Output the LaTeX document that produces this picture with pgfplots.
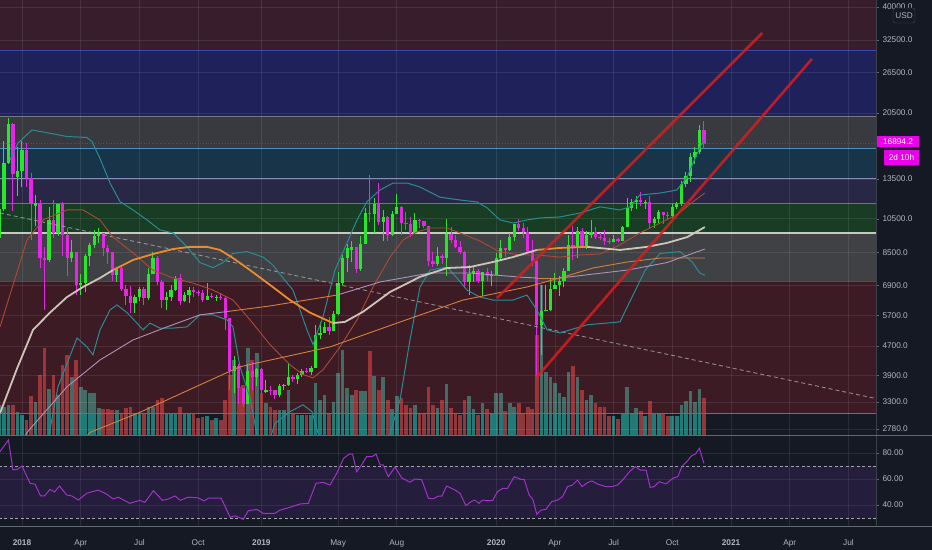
\documentclass[border=0pt]{standalone}
\usepackage{pgfplots}
\pgfplotsset{compat=1.18}
\usepackage{pgfplotstable}
\usepackage{fontspec}
\setmainfont{Liberation Sans}

\definecolor{bg}{RGB}{21,25,36}
\definecolor{lbl}{RGB}{178,181,190}
\definecolor{cup}{RGB}{40,230,40}
\definecolor{cdn}{RGB}{232,36,232}
\definecolor{vup}{RGB}{38,166,154}
\definecolor{vdn}{RGB}{239,83,80}
\definecolor{zA}{RGB}{200,50,80}
\definecolor{zB}{RGB}{60,60,255}
\definecolor{zC}{RGB}{200,190,180}
\definecolor{zD}{RGB}{40,160,220}
\definecolor{zE}{RGB}{130,110,230}
\definecolor{zF}{RGB}{40,200,40}
\definecolor{zG}{RGB}{220,210,190}
\definecolor{zH}{RGB}{230,40,40}
\definecolor{lA}{RGB}{56,72,184}
\definecolor{lB}{RGB}{120,120,128}
\definecolor{lC}{RGB}{74,144,192}
\definecolor{lD}{RGB}{138,138,184}
\definecolor{lE}{RGB}{58,154,64}
\definecolor{lF}{RGB}{200,200,190}
\definecolor{lG}{RGB}{160,40,56}
\definecolor{lH}{RGB}{110,110,115}
\definecolor{bb}{RGB}{40,140,150}
\definecolor{maA}{RGB}{175,72,52}
\definecolor{maL}{RGB}{205,198,184}
\definecolor{maO}{RGB}{232,140,45}
\definecolor{lav}{RGB}{176,144,184}
\definecolor{ora}{RGB}{215,128,60}
\definecolor{chan}{RGB}{215,30,30}
\definecolor{mag}{RGB}{235,0,235}
\definecolor{rsiband}{RGB}{150,60,230}
\definecolor{rsiln}{RGB}{160,50,200}
\definecolor{sepc}{RGB}{100,104,115}
\definecolor{trendc}{RGB}{175,175,180}
\definecolor{dashc}{RGB}{165,165,175}
\definecolor{sepv}{RGB}{60,64,75}
\definecolor{usdb}{RGB}{70,74,85}

\newcommand\lblfont{\fontsize{8.3}{10}\selectfont}

% x = weekly bar (0 = week of 1 Jan 2018), prices in thousands USD, v = volume (relative)
\pgfplotstableread{
x o h l c v
-5 9.30 11.80 9.00 11.20 30
-4 11.20 17.20 11.00 14.95 28
-3 14.95 19.80 14.80 19.10 30
-2 19.10 19.20 11.00 13.90 30
-1 13.70 16.50 12.10 14.20 23
0 14.20 17.20 12.80 16.20 20
1 16.20 17.00 12.80 13.60 15
2 13.60 14.00 9.20 11.50 39
3 11.40 12.20 10.00 11.60 33
4 11.60 11.80 7.70 8.20 60
5 8.20 8.80 5.90 8.10 87
6 8.10 11.30 8.00 10.40 46
7 10.40 11.80 9.30 9.60 60
8 9.60 11.50 9.40 11.50 40
9 11.50 11.70 8.30 9.50 70
10 9.50 9.90 7.30 8.20 80
11 8.20 9.20 8.00 8.50 58
12 8.50 8.50 6.50 6.90 75
13 6.90 7.40 6.50 7.00 48
14 7.00 8.40 6.60 8.30 45
15 8.30 9.00 7.80 8.90 42
16 8.90 9.80 8.70 9.40 42
17 9.40 9.90 9.00 9.60 27
18 9.60 9.60 8.30 8.70 26
19 8.70 8.90 7.90 8.50 26
20 8.50 8.50 7.10 7.35 25
21 7.35 7.75 7.05 7.70 25
22 7.70 7.75 6.65 6.75 22
23 6.75 6.90 6.10 6.45 27
24 6.45 6.85 5.78 6.15 28
25 6.15 6.50 5.80 6.40 22
26 6.40 6.80 6.25 6.75 22
27 6.75 6.80 6.08 6.35 22
28 6.35 7.70 6.30 7.40 28
29 7.40 8.50 7.40 8.20 28
30 8.20 8.30 6.90 7.03 35
31 7.03 7.15 5.97 6.30 37
32 6.30 6.60 5.88 6.40 22
33 6.40 6.90 6.25 6.70 22
34 6.70 7.30 6.65 7.20 22
35 7.20 7.40 6.10 6.25 28
36 6.25 6.60 6.20 6.50 22
37 6.50 6.80 6.15 6.70 22
38 6.70 6.80 6.40 6.60 22
39 6.60 6.70 6.45 6.56 17
40 6.56 6.70 6.20 6.30 18
41 6.30 7.00 6.30 6.45 19
42 6.45 6.55 6.35 6.40 15
43 6.40 6.50 6.25 6.42 17
44 6.42 6.55 6.30 6.35 15
45 6.35 6.40 5.20 5.60 35
46 5.60 5.60 3.55 4.00 60
47 4.00 4.40 3.50 4.15 75
48 4.15 4.20 3.25 3.60 48
49 3.60 3.60 3.20 3.25 50
50 3.25 4.20 3.25 4.00 87
51 4.00 4.25 3.55 3.85 75
52 3.85 4.10 3.65 4.05 82
53 4.05 4.10 3.50 3.55 42
54 3.52 3.80 3.50 3.56 32
55 3.56 3.65 3.45 3.55 28
56 3.55 3.56 3.35 3.45 25
57 3.45 3.70 3.40 3.65 25
58 3.65 3.70 3.55 3.67 25
59 3.67 4.20 3.65 3.85 45
60 3.85 3.90 3.75 3.81 22
61 3.81 3.95 3.70 3.92 20
62 3.92 4.05 3.85 4.00 20
63 4.00 4.10 3.95 3.98 20
64 3.98 4.15 3.90 4.10 20
65 4.10 5.35 4.10 5.05 52
66 5.05 5.45 4.90 5.10 35
67 5.10 5.45 5.10 5.30 40
68 5.30 5.65 5.05 5.15 22
69 5.15 5.85 5.15 5.75 33
70 5.75 7.50 5.70 7.00 62
71 7.00 8.35 6.90 8.20 85
72 8.20 8.95 7.50 8.75 47
73 8.60 9.10 8.00 8.80 40
74 8.80 8.80 7.45 7.65 45
75 7.65 9.40 7.55 8.95 44
76 8.95 11.25 8.95 10.90 44
77 10.90 13.88 10.30 10.80 84
78 10.80 12.00 9.60 11.50 59
79 11.50 13.20 10.10 10.30 45
80 10.30 11.10 9.10 10.60 58
81 10.60 10.65 9.10 9.50 35
82 9.50 11.00 9.40 10.80 26
83 10.80 12.30 10.80 11.30 39
84 11.30 11.40 9.50 10.20 37
85 10.20 10.95 9.80 10.15 30
86 10.15 10.60 9.35 9.60 27
87 9.60 10.90 9.60 10.40 30
88 10.40 10.45 9.90 10.35 22
89 10.35 10.35 9.90 10.00 22
90 10.00 10.05 7.80 8.05 48
91 8.05 8.50 7.75 7.90 30
92 7.90 8.80 7.80 8.30 27
93 8.30 8.40 7.90 8.20 35
94 8.20 10.50 7.30 9.55 51
95 9.55 9.95 9.00 9.20 27
96 9.20 9.50 8.70 8.80 22
97 8.80 9.10 8.40 8.50 20
98 8.50 8.55 6.80 7.05 35
99 7.05 7.85 6.50 7.40 39
100 7.40 7.80 7.05 7.55 26
101 7.55 7.65 7.00 7.10 20
102 7.10 7.50 6.45 7.50 32
103 7.50 7.70 7.10 7.30 26
104 7.30 7.55 6.85 7.35 22
105 7.35 8.45 7.35 8.20 42
106 8.20 9.20 8.10 8.70 42
107 8.70 8.75 8.25 8.60 24
108 8.60 9.60 8.55 9.35 32
109 9.35 10.15 9.15 10.15 28
110 10.15 10.50 9.70 9.90 32
111 9.90 10.25 9.30 9.65 22
112 9.65 9.95 8.45 8.55 28
113 8.55 9.20 7.80 8.05 26
114 8.05 8.15 3.85 5.35 100
115 5.35 6.90 4.45 5.85 150
116 5.85 6.90 5.85 5.90 63
117 5.90 7.20 5.85 6.75 58
118 6.75 7.45 6.75 6.90 52
119 6.90 7.30 6.45 7.10 42
120 7.10 7.70 6.80 7.55 38
121 7.55 9.45 7.55 8.90 63
122 8.90 10.05 8.10 8.75 69
123 8.75 9.95 8.20 9.70 58
124 9.70 9.90 8.70 8.70 45
125 8.70 9.70 8.65 9.45 35
126 9.45 10.40 9.30 9.65 40
127 9.65 9.95 9.25 9.35 32
128 9.35 9.60 9.20 9.30 28
129 9.30 9.80 8.90 9.10 28
130 9.10 9.30 8.95 9.05 19
131 9.05 9.45 9.05 9.25 19
132 9.25 9.30 9.05 9.15 16
133 9.15 10.00 9.15 9.95 22
134 9.95 12.00 9.95 11.25 48
135 11.25 11.90 11.00 11.70 22
136 11.70 12.10 11.15 11.85 27
137 11.85 12.45 11.40 11.65 24
138 11.65 11.80 11.15 11.70 19
139 11.70 12.10 9.85 10.25 34
140 10.25 10.60 9.90 10.45 22
141 10.45 11.10 10.20 10.95 21
142 10.95 10.98 10.15 10.75 21
143 10.75 10.95 10.40 10.65 19
144 10.65 11.50 10.55 11.30 19
145 11.30 11.70 11.20 11.50 19
146 11.50 13.35 11.40 13.05 30
147 13.05 14.10 12.80 13.80 34
148 13.80 15.95 13.25 15.50 44
149 15.50 16.50 14.85 16.00 33
150 16.00 18.95 15.80 18.40 46
151 18.40 19.45 16.30 16.894 37
}\ohlc

\begin{document}
\begin{tikzpicture}
\fill[bg] (0bp,0bp) rectangle (932bp,550bp);

% ---------- volume ----------
\begin{axis}[at={(0bp,115bp)}, anchor=south west, scale only axis,
  width=876bp, height=435bp, xmin=-4.87, xmax=189.1, ymin=0, ymax=435, hide axis,
  xtick=\empty, ytick=\empty]
\pgfplotsinvokeforeach{0,...,156}{
  \pgfplotstablegetelem{#1}{x}\of\ohlc\let\Cx\pgfplotsretval
  \pgfplotstablegetelem{#1}{o}\of\ohlc\let\Co\pgfplotsretval
  \pgfplotstablegetelem{#1}{c}\of\ohlc\let\Cc\pgfplotsretval
  \pgfplotstablegetelem{#1}{v}\of\ohlc\let\Cv\pgfplotsretval
  \ifdim\Cc pt<\Co pt\def\Vcol{vdn,opacity=0.55}\else\def\Vcol{vup,opacity=0.7}\fi
  \edef\tmp{\noexpand\addplot[\Vcol,line width=3.7bp,forget plot] coordinates {(\Cx,0) (\Cx,\Cv)};}
  \tmp
}
\end{axis}

% ---------- zones ----------
\begin{axis}[at={(0bp,115bp)}, anchor=south west, scale only axis,
  width=876bp, height=435bp, xmin=-4.87, xmax=189.1, ymode=log, ymin=2.676, ymax=41.85, hide axis,
  xtick=\empty, ytick=\empty]
\addplot[draw=none, fill=zA, fill opacity=0.2] coordinates {(-10,30.4) (200,30.4) (200,45) (-10,45)};
\addplot[draw=none, fill=zB, fill opacity=0.25] coordinates {(-10,20.1) (200,20.1) (200,30.4) (-10,30.4)};
\addplot[draw=none, fill=zC, fill opacity=0.2] coordinates {(-10,16.4) (200,16.4) (200,20.1) (-10,20.1)};
\addplot[draw=none, fill=zD, fill opacity=0.2] coordinates {(-10,13.5) (200,13.5) (200,16.4) (-10,16.4)};
\addplot[draw=none, fill=zE, fill opacity=0.18] coordinates {(-10,11.55) (200,11.55) (200,13.5) (-10,13.5)};
\addplot[draw=none, fill=zF, fill opacity=0.2] coordinates {(-10,9.6) (200,9.6) (200,11.55) (-10,11.55)};
\addplot[draw=none, fill=zG, fill opacity=0.22] coordinates {(-10,7.08) (200,7.08) (200,9.6) (-10,9.6)};
\addplot[draw=none, fill=zH, fill opacity=0.19] coordinates {(-10,3.07) (200,3.07) (200,7.08) (-10,7.08)};
\addplot[lA, line width=1bp] coordinates {(-10,30.4) (200,30.4)};
\addplot[lB, line width=1bp] coordinates {(-10,20.1) (200,20.1)};
\addplot[lC, line width=1bp] coordinates {(-10,16.4) (200,16.4)};
\addplot[lD, line width=1bp] coordinates {(-10,13.5) (200,13.5)};
\addplot[lE, line width=1bp] coordinates {(-10,11.55) (200,11.55)};
\addplot[lF, line width=1.6bp] coordinates {(-10,9.6) (200,9.6)};
\addplot[lG, line width=1bp] coordinates {(-10,7.08) (200,7.08)};
\addplot[lH, line width=0.8bp] coordinates {(-10,3.07) (200,3.07)};
\end{axis}

% ---------- price ----------
\begin{axis}[at={(0bp,115bp)}, anchor=south west, scale only axis,
  width=876bp, height=435bp, xmin=-4.87, xmax=189.1, ymode=log, ymin=2.676, ymax=41.85,
  axis line style={draw=none},
  xtick={0,13,26,39,53,70,83,105,118,131,144,157,170,183}, xticklabels={},
  xtick style={draw=none},
  ytick={2.78,3.3,3.9,4.7,5.7,6.9,8.5,10.5,13.5,20.5,26.5,32.5,40},
  yticklabels={2780.0,3300.0,3900.0,4700.0,5700.0,6900.0,8500.0,10500.0,13500.0,20500.0,26500.0,32500.0,40000.0},
  yticklabel pos=right, ytick pos=right, tick align=outside,
  major tick length=3bp, minor tick length=0bp,
  ytick style={draw=sepc},
  yticklabel style={font=\lblfont, text=lbl},
  grid=major, major grid style={white, opacity=0.085, line width=0.7bp}]
% candles
\pgfplotsinvokeforeach{0,...,156}{
  \pgfplotstablegetelem{#1}{x}\of\ohlc\let\Cx\pgfplotsretval
  \pgfplotstablegetelem{#1}{o}\of\ohlc\let\Co\pgfplotsretval
  \pgfplotstablegetelem{#1}{h}\of\ohlc\let\Ch\pgfplotsretval
  \pgfplotstablegetelem{#1}{l}\of\ohlc\let\Cl\pgfplotsretval
  \pgfplotstablegetelem{#1}{c}\of\ohlc\let\Cc\pgfplotsretval
  \ifdim\Cc pt<\Co pt\def\Ccol{cdn}\else\def\Ccol{cup}\fi
  \edef\tmp{\noexpand\addplot[\Ccol,line width=1bp,forget plot] coordinates {(\Cx,\Cl) (\Cx,\Ch)};
    \noexpand\addplot[\Ccol,line width=3.3bp,forget plot] coordinates {(\Cx,\Co) (\Cx,\Cc)};}
  \tmp
}
% dashed long-term trend line
\addplot[trendc, dash pattern=on 4bp off 3bp, line width=0.9bp, opacity=0.75]
  coordinates {(-4.87,10.89) (189.1,3.37)};
% current price dotted line
\addplot[mag, dotted, line width=0.7bp, opacity=0.7] coordinates {(-10,16.894) (200,16.894)};
% Bollinger upper
\addplot[bb, line width=1bp] coordinates {
(-2.66,15.22) (-0.89,16.95) (2.21,18.40) (4.65,18.17) (9.96,17.66) (14.39,17.55) (15.5,17.1)
(17.27,15.37) (19.49,13.16) (21.7,11.70) (24.58,11.10) (27.68,10.42) (30.56,9.78) (33.44,9.60)
(36.54,8.79) (39.42,7.96) (42.29,7.71) (44.51,7.96) (46.72,8.43) (49.82,8.53) (53.37,8.24)
(55.58,7.83) (57.79,7.22) (60.0,6.69) (61.56,5.90) (63.1,5.20) (64.44,4.74) (65.32,5.10)
(66.65,5.64) (69.3,7.59) (71.97,9.01) (74.18,10.42) (76.4,11.70) (79.27,12.59) (82.15,13.16)
(85.25,13.16) (88.13,12.83) (92.56,12.03) (96.99,11.82) (100.75,11.67) (102.97,11.25)
(105.85,10.42) (108.72,10.22) (111.82,10.42) (114.7,10.55) (119.13,10.62) (123.56,10.89)
(128.0,11.32) (132.4,11.10) (134.6,11.32) (136.8,12.20) (141.3,12.35) (145.0,12.59)
(147.3,13.67) (148.6,14.95) (150.1,16.47) (151.2,17.42)};
% Bollinger lower
\addplot[bb, line width=1bp] coordinates {
(4.5,2.3) (5.76,2.59) (7.97,3.63) (12.18,4.94) (14.39,4.67) (15.72,4.44) (17.27,5.20) (19.49,5.90)
(21.04,6.09) (23.25,5.80) (25.46,5.43) (26.79,5.20) (28.34,5.43) (30.56,5.26) (33.44,5.26)
(36.54,5.30) (39.42,5.72) (42.29,5.72) (45.39,5.54) (46.72,5.30) (48.27,4.12) (50.49,3.38)
(52.26,2.59) (54,2.4) (56.02,2.88) (59.34,3.10) (62.22,3.24) (64.22,3.10) (65.99,2.59)
(68,2.2) (75,1.8) (81.05,2.59) (83.7,3.34) (85.9,4.88) (88.13,6.82) (90.35,7.59) (94.11,7.74)
(96.32,7.22) (98.54,6.69) (101.4,6.40) (104.3,6.28) (108.7,6.28) (111.8,6.48) (114.0,5.90)
(116.3,5.20) (119.1,5.10) (125.1,5.37) (129.5,5.43) (132.4,5.47) (135.3,6.48) (138.0,7.59)
(141.3,8.43) (145.7,8.53) (148.4,7.99) (150.1,7.45) (151.2,7.35)};
% 20-week average
\addplot[maA, line width=0.9bp] coordinates {
(-4.87,5.30) (1.11,9.18) (4.65,10.42) (9.96,11.10) (13.5,11.10) (17.27,10.42) (20.15,9.35)
(24.58,8.46) (29.0,7.59) (33.44,7.22) (37.87,6.99) (42.29,6.69) (46.72,6.28) (50.49,5.54)
(54.92,4.74) (59.34,4.17) (62.22,3.92) (64.44,3.84) (66.65,4.04) (70.42,4.67) (74.18,5.54)
(77.72,6.82) (81.49,8.24) (84.37,9.18) (87.47,9.66) (90.35,9.90) (94.11,9.90) (96.99,9.60)
(101.4,9.12) (105.85,8.51) (110.3,8.35) (114.0,8.35) (119.1,8.24) (123.6,8.35) (128.0,8.40)
(132.4,8.90) (136.8,9.60) (141.3,10.22) (145.0,10.76) (148.6,11.70) (151.2,12.35)};
% slow thin averages
\addplot[ora, line width=0.9bp] coordinates {
(13,2.55) (15.06,2.72) (26.13,3.09) (37.2,3.57) (48.27,4.12) (68.2,4.67) (83.04,5.43)
(97.65,6.28) (111.8,6.82) (119.1,7.22) (126.4,7.69) (134.0,7.99) (141.3,8.19) (151.2,8.19)};
\addplot[lav, line width=0.9bp] coordinates {
(0,2.55) (1.11,2.72) (9.96,3.63) (17.27,4.30) (24.58,4.88) (32.1,5.30) (39.42,5.72) (44.95,5.83)};
\addplot[ora, line width=0.9bp] coordinates {(44.95,5.83) (54.92,6.05) (61.56,6.24) (69.75,6.48)};
\addplot[lav, line width=0.9bp] coordinates {
(69.75,6.48) (79.27,7.04) (90.35,7.45) (99.2,7.45) (110.3,7.26) (114.0,7.22)};
\addplot[ora, line width=0.9bp] coordinates {(114.0,7.22) (119.1,7.22)};
\addplot[lav, line width=0.9bp] coordinates {(119.1,7.22) (134.0,7.59) (142.8,7.96) (151.2,8.67)};
% 50-week average (light above price / orange below)
\addplot[maL, line width=1.8bp] coordinates {
(-4.87,3.07) (-1.11,4.07) (2.44,5.20) (6.2,5.80) (9.96,6.40) (13.5,6.82) (17.27,7.22) (20.15,7.59)};
\addplot[maO, line width=1.8bp] coordinates {
(20.15,7.59) (24.58,8.09) (29.0,8.40) (33.44,8.67) (37.2,8.79) (40.97,8.79) (43.84,8.62)
(46.72,8.19) (50.49,7.59) (54.92,6.91) (59.34,6.28) (63.77,5.80) (68.87,5.43)};
\addplot[maL, line width=1.8bp] coordinates {
(68.87,5.43) (71.5,5.47) (75.5,5.83) (81.5,6.61) (88.1,7.27) (94.1,7.69) (99.2,7.74)
(104.3,7.99) (108.7,8.24) (114.0,8.62)};
\addplot[maO, line width=1.8bp] coordinates {(114.0,8.62) (119.1,8.73) (125.1,8.79)};
\addplot[maL, line width=1.8bp] coordinates {
(125.1,8.79) (132.4,8.62) (138.4,8.79) (142.8,9.01) (147.3,9.35) (151.2,9.96)};
% rising channel
\addplot[chan, line width=2.6bp, opacity=0.85] coordinates {(105.2,6.36) (163.9,33.95)};
\addplot[chan, line width=2.6bp, opacity=0.85] coordinates {(114.0,3.86) (174.9,28.82)};
\end{axis}

% ---------- RSI ----------
\begin{axis}[at={(0bp,24bp)}, anchor=south west, scale only axis,
  width=876bp, height=90bp, xmin=-4.87, xmax=189.1, ymin=23.85, ymax=93.08,
  axis line style={draw=none},
  xtick={0,13,26,39,53,70,83,105,118,131,144,157,170,183},
  xticklabels={\textbf{2018},Apr,Jul,Oct,\textbf{2019},May,Aug,\textbf{2020},Apr,Jul,Oct,\textbf{2021},Apr,Jul},
  xtick style={draw=none},
  xticklabel style={font=\lblfont, text=lbl, yshift=-7bp},
  ytick={40,60,80}, yticklabels={40.00,60.00,80.00},
  yticklabel pos=right, ytick pos=right, tick align=outside,
  major tick length=3bp, ytick style={draw=sepc},
  yticklabel style={font=\lblfont, text=lbl},
  grid=major, major grid style={white, opacity=0.085, line width=0.7bp}]
\addplot[draw=none, fill=rsiband, fill opacity=0.12] coordinates {(-10,30) (200,30) (200,70) (-10,70)};
\addplot[dashc, dash pattern=on 3bp off 2.5bp, line width=0.8bp] coordinates {(-10,70) (200,70)};
\addplot[dashc, dash pattern=on 3bp off 2.5bp, line width=0.8bp] coordinates {(-10,30) (200,30)};
\addplot[rsiln, line width=1bp] coordinates {
(-4.87,81) (-3,90) (-2,67) (-1,67.5) (0,70) (1.8,56.7) (2.9,56) (4.1,47) (5,47) (6.2,52)
(7.2,50) (8.3,54.6) (9.9,47.7) (11,47) (12.5,43.8) (14.3,49) (16.9,51.5) (18.7,48.4) (20.2,44.6)
(21.3,46) (23.9,41.3) (26.1,43.6) (27.2,42) (29.1,51) (31.1,43.6) (32.4,44.6) (33.9,47) (35,43.6)
(36.8,46) (39,45.5) (40.3,43.1) (41.3,45.3) (44.1,45.3) (46.1,30.5) (47.2,31.7) (49,29)
(50.1,35.6) (52,36.6) (53.4,33.6) (56,33.6) (57.1,36) (59.3,38.2) (61.6,40.8) (63.4,41.3)
(65.1,56.7) (66.7,57.4) (68.2,55.4) (69.7,64.4) (71.2,75.9) (72.5,79.2) (73.2,79.2) (74.1,65.6)
(75.2,70.8) (76.3,77.2) (77.5,77.2) (78.4,79.2) (79.3,70.8) (80,70.8) (81.1,61.8) (82.6,69.2)
(84.1,60.8) (85.9,57.5) (87,60) (88.5,59.5) (90,45.1) (91.1,44.8) (92.2,46.9) (93,46.9) (94,54.6)
(95.9,51.5) (97,48.9) (98.3,39.5) (99.4,42.5) (100.2,43.8) (101.2,41.3) (102,43.8) (103.1,43.3)
(104.2,43.3) (105.3,50.3) (106.4,52.8) (107.5,52.8) (109,61.8) (110.5,59.7) (111.2,59.7)
(112.3,47.7) (113.1,44.4) (114,32.8) (114.9,36.1) (116,36.6) (117.3,42.6) (118.6,43.8)
(119.7,46.4) (120.8,54.1) (121.9,55.4) (123,59.2) (124,54.1) (125.2,57.2) (126.2,58.5)
(127.4,56.2) (129.3,54.1) (130.6,54.1) (131.9,55.4) (133,59.2) (134.5,65.6) (135.8,69.5)
(136.9,66.9) (138.2,66.9) (139.1,53.6) (140,54.1) (141.1,57.9) (142.6,56.2) (144.1,60.5)
(145.2,61.8) (146.2,70) (147.4,74.1) (148.2,77.7) (149.1,79.2) (150,83.6) (151,72)};
\end{axis}

% panel separators and price-scale badges
\draw[sepv, line width=1bp] (876bp,24bp) -- (876bp,550bp);
\draw[sepc, line width=0.9bp] (0bp,115bp) -- (932bp,115bp);
\draw[sepc, line width=0.9bp] (0bp,24bp) -- (932bp,24bp);
\node[fill=mag, text=white, font=\lblfont, minimum width=42bp, minimum height=11.5bp, inner sep=0pt] at (898bp,408.5bp) {16894.2};
\node[fill=mag, text=white, font=\lblfont, minimum width=35bp, minimum height=15bp, inner sep=0pt] at (901.5bp,392bp) {2d 10h};
\node[draw=usdb, rounded corners=2.5bp, fill=bg, text=lbl, font=\lblfont, minimum width=22bp, minimum height=15bp, inner sep=0pt] at (904bp,534.5bp) {USD};
\pgfresetboundingbox
\path[use as bounding box] (0bp,0bp) rectangle (932bp,550bp);
\end{tikzpicture}
\end{document}
